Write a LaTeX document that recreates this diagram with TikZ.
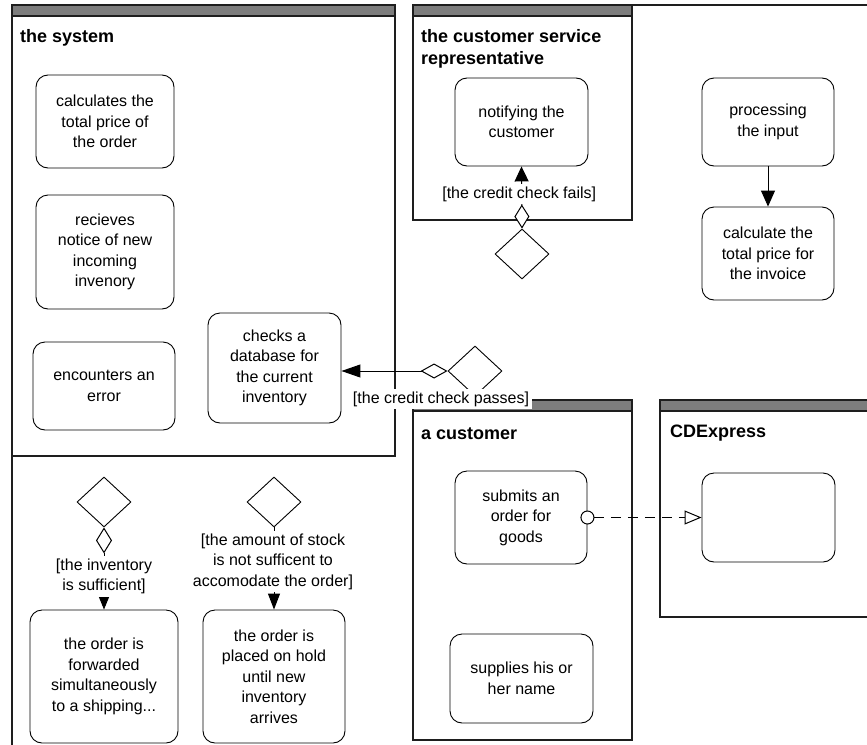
\documentclass[tikz,border=0pt]{standalone}
\usepackage{fontspec}
\setmainfont{Liberation Sans}
\usetikzlibrary{arrows.meta,shapes.geometric}
\definecolor{bargray}{RGB}{125,125,125}
\definecolor{framecol}{RGB}{30,30,30}
\begin{document}
\begin{tikzpicture}[x=1pt,y=-1pt,
  frameline/.style={draw=framecol, line width=1.5pt},
  barfill/.style={fill=bargray, draw=framecol, line width=1.5pt},
  ttl/.style={font=\fontsize{18}{22}\selectfont\bfseries, anchor=west, align=left, inner sep=0pt},
  act/.style={draw, fill=white, rounded corners=12pt, line width=0.9pt, align=center,
    font=\fontsize{16}{20.5}\selectfont, inner sep=0pt},
  dia/.style={draw, fill=white, diamond, minimum width=54pt, minimum height=50pt, inner sep=0pt, line width=0.9pt},
  lbl/.style={fill=white, align=center, font=\fontsize{16}{20.5}\selectfont, inner sep=2.5pt},
  flow/.style={line width=1pt}
]
\useasboundingbox (0,0) rectangle (867,744);
\fill[white] (0,0) rectangle (867,744);

% frames
\draw[frameline] (632,5) -- (880,5);
\draw[frameline] (12,456) -- (12,750);
\draw[frameline] (12,5) rectangle (395,456);
\draw[barfill] (12,5) rectangle (395,16);
\draw[frameline] (413,5) rectangle (632,220);
\draw[barfill] (413,5) rectangle (632,16);
\draw[frameline] (413,400) rectangle (632,740);
\draw[barfill] (413,400) rectangle (632,411);
\draw[frameline] (660,400) rectangle (890,617);
\draw[barfill] (660,400) rectangle (890,411);

% titles
\node[ttl] (tSys) at (20,38) {the system};
\node[ttl] (tCsr) at (421,49) {the customer service\\representative};
\node[ttl] (tCust) at (421,434) {a customer};
\node[ttl] (tCdx) at (670,433) {CDExpress};

% activities
\node[act, minimum width=138pt, minimum height=93pt] (calcTotal) at (105,121.5) {calculates the\\total price of\\the order};
\node[act, minimum width=138pt, minimum height=114pt] (recv) at (105,252) {recieves\\notice of new\\incoming\\invenory};
\node[act, minimum width=142pt, minimum height=88pt] (err) at (104,386) {encounters an\\error};
\node[act, minimum width=133pt, minimum height=110pt] (checks) at (274.5,368) {checks a\\database for\\the current\\inventory};
\node[act, minimum width=133pt, minimum height=88pt] (notify) at (521.5,122) {notifying the\\customer};
\node[act, minimum width=132pt, minimum height=88pt] (proc) at (768,122) {processing\\the input};
\node[act, minimum width=132pt, minimum height=93pt] (calcInv) at (768,253.5) {calculate the\\total price for\\the invoice};
\node[act, minimum width=132pt, minimum height=93pt] (submit) at (521,517.5) {submits an\\order for\\goods};
\node[act, minimum width=143pt, minimum height=89pt] (supplies) at (521.5,678.5) {supplies his or\\her name};
\node[act, minimum width=133pt, minimum height=89pt] (cdx) at (768.5,517.5) {};
\node[act, minimum width=148pt, minimum height=133pt] (fwd) at (104,676.5) {the order is\\forwarded\\simultaneously\\to a shipping...};
\node[act, minimum width=142pt, minimum height=133pt] (hold) at (274,676.5) {the order is\\placed on hold\\until new\\inventory\\arrives};

% decisions
\node[dia] (dFail) at (522,254) {};
\node[dia] (dPass) at (475,371) {};
\node[dia] (dInv) at (104,502) {};
\node[dia] (dStock) at (274,502) {};

% connectors
\draw[flow, -{Triangle[length=16pt,width=14pt]}] (proc.south) -- (calcInv.north);
\draw[flow, {Diamond[open,fill=white,length=24pt,width=15pt]}-{Triangle[length=15pt,width=14pt]}]
  (dFail.north) -- (notify.south)
  node[lbl, pos=0.55, xshift=-2.5pt] (lFail) {[the credit check fails]};
\draw[flow, {Diamond[open,fill=white,length=27pt,width=15pt]}-{Triangle[length=19pt,width=13pt]}]
  (dPass.west) -- (checks.east |- dPass.west);
\draw[flow, {Diamond[open,fill=white,length=26pt,width=16pt]}-{Triangle[length=15pt,width=12pt]}]
  (dInv.south) -- (fwd.north);
\draw[flow, -{Triangle[length=16pt,width=12pt]}]
  (dStock.south) -- (hold.north);
\draw[flow, dash pattern=on 10pt off 7pt, shorten <=-7pt,
  {Circle[open,fill=white,length=14pt,width=14pt]}-{Triangle[open,fill=white,length=17pt,width=14pt]}]
  (submit.east) -- (cdx.west);

% guard labels
\node[lbl] (lPass) at (441,399) {[the credit check passes]};
\node[lbl] (lInv) at (104,576.5) {[the inventory\\is sufficient]};
\node[lbl] (lStock) at (273,561.5) {[the amount of stock\\is not sufficent to\\accomodate the order]};
\end{tikzpicture}
\end{document}
